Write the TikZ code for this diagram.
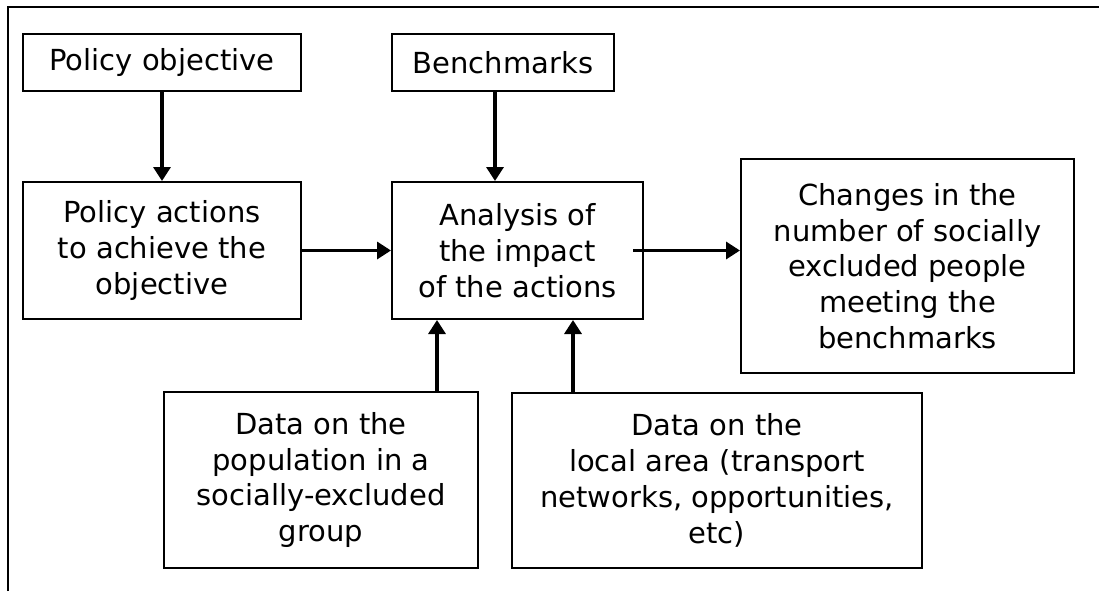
\documentclass[tikz,border=0pt]{standalone}
\usepackage{fontspec}
\setmainfont{DejaVu Sans}
\usepackage{tikz}
\usetikzlibrary{arrows.meta}
\newcommand{\boxline}{2pt}
\newcommand{\arrowline}{3.3pt}
\newcommand{\framecolor}{black}
\tikzset{
  flowbox/.style={draw, line width=\boxline, align=center, inner sep=0pt,
    font=\fontsize{29}{35.8}\selectfont},
  flowarrow/.style={line width=\arrowline, -{Triangle[length=14pt,width=17pt]}}
}

\begin{document}
\begin{tikzpicture}[x=1pt, y=-1pt]
\useasboundingbox (0,0) rectangle (1099,591);
\draw[\framecolor] [line width = 2pt] (8,591) -- (8,7) -- (1099,7);
\node[flowbox, minimum width=278pt, minimum height=57pt] (objective) at (162, 62.5) {Policy objective};
\node[flowbox, minimum width=222pt, minimum height=57pt] (benchmarks) at (503, 62.5) {Benchmarks};
\node[flowbox, minimum width=278pt, minimum height=137pt] (actions) at (162, 250.5) {Policy actions\\to achieve the\\objective};
\node[flowbox, minimum width=251pt, minimum height=137pt] (analysis) at (517.5, 250.5) {Analysis of\\the impact\\of the actions};
\node[flowbox, minimum width=333pt, minimum height=214pt] (changes) at (907.5, 266) {Changes in the\\number of socially\\excluded people\\meeting the\\benchmarks};
\node[flowbox, minimum width=314pt, minimum height=176pt] (population) at (321, 480) {Data on the\\population in a\\socially-excluded\\group};
\node[flowbox, minimum width=410pt, minimum height=175pt] (area) at (717, 480.5) {Data on the\\local area (transport\\networks, opportunities,\\etc)};
\coordinate (benchx) at (495, 0);
\coordinate (popx) at (437, 0);
\coordinate (areax) at (573, 0);
\draw[flowarrow] (objective) -- (actions);
\draw[flowarrow] (benchmarks.south -| benchx) -- (analysis.north -| benchx);
\draw[flowarrow] (actions) -- (analysis);
\draw[flowarrow] ([xshift=-11pt]analysis.east) -- (analysis.east -| changes.west);
\draw[flowarrow] (population.north -| popx) -- (analysis.south -| popx);
\draw[flowarrow] (area.north -| areax) -- (analysis.south -| areax);
\end{tikzpicture}
\end{document}
